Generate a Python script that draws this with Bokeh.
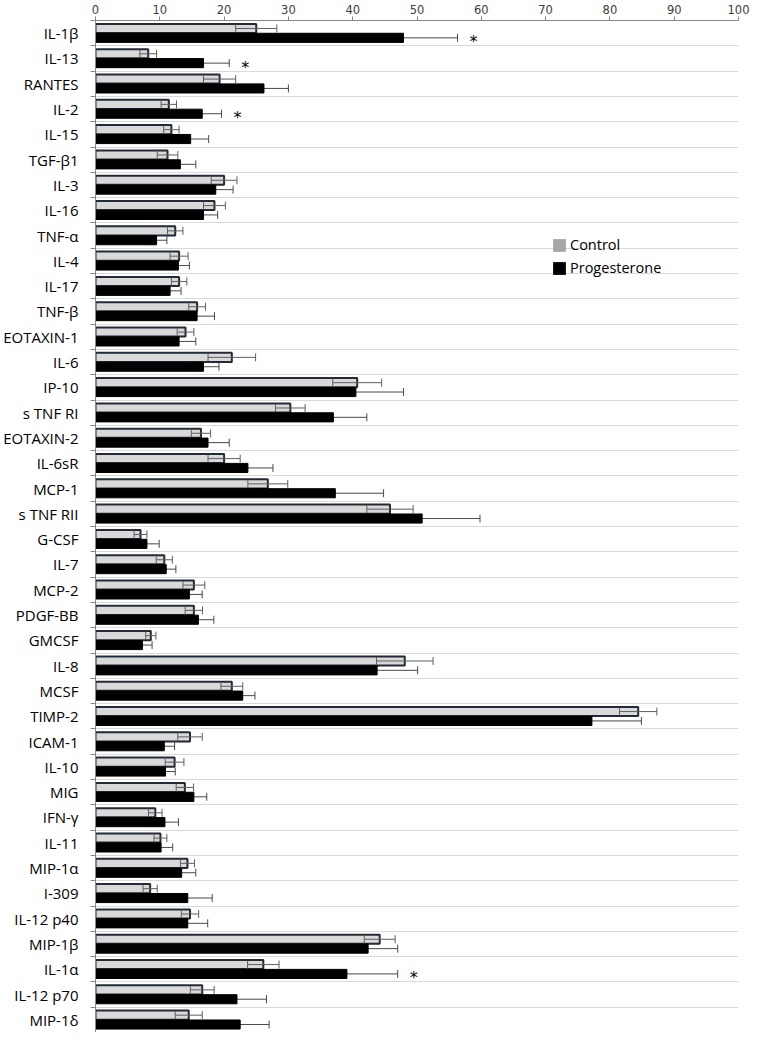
from bokeh.plotting import figure
from bokeh.models import (ColumnDataSource, Range1d, FixedTicker, Whisker, TeeHead,
                          Legend, LegendItem)
from bokeh.core.properties import value
from bokeh.embed import file_html
from bokeh.resources import INLINE

categories = ["IL-1β", "IL-13", "RANTES", "IL-2", "IL-15", "TGF-β1", "IL-3", "IL-16",
              "TNF-α", "IL-4", "IL-17", "TNF-β", "EOTAXIN-1", "IL-6", "IP-10",
              "s TNF RI", "EOTAXIN-2", "IL-6sR", "MCP-1", "s TNF RII", "G-CSF", "IL-7",
              "MCP-2", "PDGF-BB", "GMCSF", "IL-8", "MCSF", "TIMP-2", "ICAM-1", "IL-10",
              "MIG", "IFN-γ", "IL-11", "MIP-1α", "I-309", "IL-12 p40", "MIP-1β",
              "IL-1α", "IL-12 p70", "MIP-1δ"]

control = [25.0, 8.2, 19.3, 11.4, 11.8, 11.2, 20.0, 18.5, 12.4, 13.0, 13.0, 15.8, 14.0,
           21.2, 40.7, 30.3, 16.4, 20.0, 26.8, 45.8, 7.0, 10.7, 15.3, 15.3, 8.6, 48.1,
           21.2, 84.4, 14.7, 12.3, 13.9, 9.3, 10.1, 14.3, 8.5, 14.7, 44.2, 26.1, 16.6, 14.5]
control_err = [3.2, 1.3, 2.5, 1.2, 1.2, 1.6, 2.0, 1.7, 1.2, 1.4, 1.2, 1.3, 1.3, 3.7, 3.8,
               2.3, 1.5, 2.5, 3.1, 3.6, 1.0, 1.25, 1.7, 1.35, 0.8, 4.4, 1.7, 2.9, 1.9,
               1.45, 1.35, 1.05, 1.0, 1.1, 1.1, 1.35, 2.4, 2.45, 1.85, 2.1]
progesterone = [47.9, 16.8, 26.2, 16.6, 14.8, 13.2, 18.7, 16.8, 9.5, 12.9, 11.6, 15.8,
                13.0, 16.8, 40.5, 37.0, 17.5, 23.7, 37.3, 50.8, 8.0, 11.0, 14.6, 16.0,
                7.3, 43.8, 22.9, 77.2, 10.7, 10.9, 15.3, 10.8, 10.2, 13.4, 14.35, 14.35,
                42.4, 39.1, 22.0, 22.5]
progesterone_err = [8.4, 4.0, 3.8, 3.0, 2.8, 2.4, 2.7, 2.2, 1.6, 1.7, 1.7, 2.7, 2.6, 2.4,
                    7.4, 5.2, 3.3, 3.9, 7.5, 9.0, 1.9, 1.5, 2.0, 2.4, 1.5, 6.3, 1.9, 7.7,
                    1.6, 1.5, 2.0, 2.1, 1.8, 2.2, 3.8, 3.1, 4.6, 7.9, 4.6, 4.5]
significant = ["IL-1β", "IL-13", "IL-2", "IL-1α"]
x_ticks = [0, 10, 20, 30, 40, 50, 60, 70, 80, 90, 100]
series_names = ["Control", "Progesterone"]

n = len(categories)
BAR_H = 0.36
OFF = 0.185
ys = [n - 1 - i for i in range(n)]
boundaries = [k - 0.5 for k in range(n + 1)]

src = ColumnDataSource(dict(
    y=ys,
    yc=[v + OFF for v in ys],
    yp=[v - OFF for v in ys],
    ctrl=control,
    ctrl_lo=[c - e for c, e in zip(control, control_err)],
    ctrl_hi=[c + e for c, e in zip(control, control_err)],
    prog=progesterone,
    prog_lo=[c - e for c, e in zip(progesterone, progesterone_err)],
    prog_hi=[c + e for c, e in zip(progesterone, progesterone_err)],
))

sig_idx = [categories.index(s) for s in significant]
sig_src = ColumnDataSource(dict(
    x=[progesterone[i] + progesterone_err[i] + 2.5 for i in sig_idx],
    y=[ys[i] - OFF for i in sig_idx],
    t=["*"] * len(sig_idx),
))

p = figure(width=750, height=1032, x_range=Range1d(0, 100), y_range=Range1d(-0.5, n - 0.5),
           x_axis_location="above", output_backend="svg", toolbar_location=None,
           min_border_left=88, min_border_right=12, min_border_top=20, min_border_bottom=0)
p.outline_line_color = None
p.background_fill_color = "white"

AX = "#868686"
# x axis (top)
xa = p.xaxis[0]
xa.ticker = FixedTicker(ticks=x_ticks)
xa.axis_line_color = AX
xa.major_tick_line_color = AX
xa.major_tick_out = 4
xa.major_tick_in = 0
xa.minor_tick_line_color = None
xa.major_label_text_font = "DejaVu Sans"
xa.major_label_text_font_size = "11.5px"
xa.major_label_text_color = "#404040"
xa.major_label_standoff = 3

# y axis (left)
ya = p.yaxis[0]
ya.ticker = FixedTicker(ticks=ys, minor_ticks=boundaries)
ya.major_label_overrides = {v: c for v, c in zip(ys, categories)}
ya.axis_line_color = AX
ya.major_tick_line_color = None
ya.major_tick_out = 0
ya.major_tick_in = 0
ya.minor_tick_line_color = AX
ya.minor_tick_out = 5
ya.minor_tick_in = 0
ya.major_label_text_font = "Open Sans"
ya.major_label_text_font_size = "15px"
ya.major_label_text_color = "black"
ya.major_label_standoff = 12

p.xgrid.visible = False
p.ygrid.ticker = FixedTicker(ticks=boundaries)
p.ygrid.grid_line_color = "#D9D9D9"
p.ygrid.grid_line_width = 1.2

# bars
p.hbar(y="yc", left=0, right="ctrl", height=BAR_H, source=src,
       fill_color="#D9D9D9", line_color="#232B36", line_width=2)
p.hbar(y="yp", left=0, right="prog", height=BAR_H, source=src,
       fill_color="black", line_color="black", line_width=1)

# error bars
wc = Whisker(base="yc", lower="ctrl_lo", upper="ctrl_hi", dimension="width", source=src,
             line_color="#5F5F5F", line_width=1, level="annotation",
             upper_head=TeeHead(size=8, line_color="#5F5F5F", line_width=1),
             lower_head=TeeHead(size=8, line_color="#5F5F5F", line_width=1))
wp = Whisker(base="yp", lower="prog_lo", upper="prog_hi", dimension="width", source=src,
             line_color="#4A4A4A", line_width=1, level="underlay",
             upper_head=TeeHead(size=8, line_color="#4A4A4A", line_width=1),
             lower_head=TeeHead(size=8, line_color="#4A4A4A", line_width=1))
p.add_layout(wc)
p.add_layout(wp)

# significance asterisks
p.text(x="x", y="y", text="t", source=sig_src, text_font=value("DejaVu Sans"),
       text_font_size="16px", text_align="center", text_baseline="middle",
       y_offset=4, text_color="black")

# legend swatches: zero-size proxies (nothing drawn in the plot area)
proxy = ColumnDataSource(dict(x=[0], y=[0], w=[0], h=[0]))
lc = p.rect(x="x", y="y", width="w", height="h", source=proxy,
            fill_color="#A6A6A6", line_color=None)
lp = p.rect(x="x", y="y", width="w", height="h", source=proxy,
            fill_color="black", line_color=None)
legend = Legend(items=[LegendItem(label=series_names[0], renderers=[lc], index=0),
                       LegendItem(label=series_names[1], renderers=[lp], index=0)],
                location=(456, 755), glyph_width=16, glyph_height=16, label_standoff=3,
                spacing=4, padding=0, margin=0, border_line_color=None,
                background_fill_alpha=0, label_text_font="Open Sans",
                label_text_font_size="14.5px", label_text_color="black")
p.add_layout(legend)

open("out.html", "w").write(file_html(p, INLINE))
